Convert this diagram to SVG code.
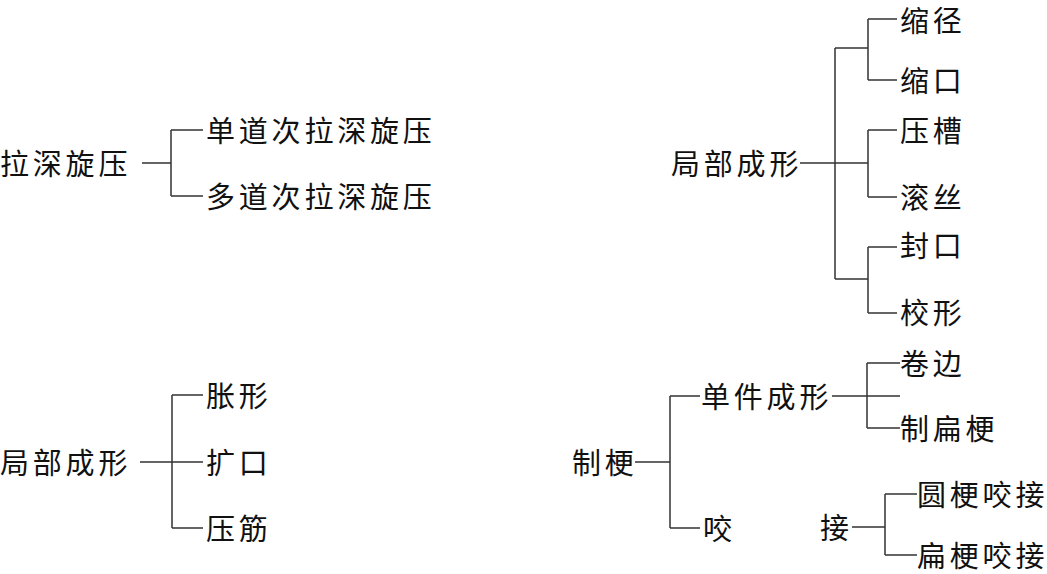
<svg xmlns="http://www.w3.org/2000/svg" width="1047" height="574" viewBox="0 0 1047 574">
<style>
.t{font-family:"Noto Sans CJK SC","Noto Sans",sans-serif;font-size:29px;letter-spacing:3.8px;fill:#111;dominant-baseline:central}
.c path{fill:none;stroke:#333;stroke-width:1.5}
</style>
<rect width="1047" height="574" fill="#fff"/>
<g class="c" id="connectors">
<path d="M142 163H171M171 130V196M171 130H203M171 196H203"/>
<path d="M800 163H868M835 48V279M835 48H868M835 279H868M868 19V80M868 19H897M868 80H897M868 130V197M868 130H897M868 197H897M868 247V313M868 247H897M868 313H897"/>
<path d="M140 462H203M172 395V528M172 395H203M172 528H203"/>
<path d="M635 462H670M670 396V528M670 396H700M670 528H700M832 396H900M867 363V428M867 363H900M867 428H900M852 527H885M885 494V555M885 494H917M885 555H917"/>
</g>
<g id="n1"><text class="t" x="0" y="162">拉深旋压</text></g>
<g id="n2"><text class="t" x="206" y="129">单道次拉深旋压</text></g>
<g id="n3"><text class="t" x="206" y="195">多道次拉深旋压</text></g>
<g id="n4"><text class="t" x="671" y="162">局部成形</text></g>
<g id="n5"><text class="t" x="900" y="19">缩径</text></g>
<g id="n6"><text class="t" x="900" y="79">缩口</text></g>
<g id="n7"><text class="t" x="900" y="129">压槽</text></g>
<g id="n8"><text class="t" x="900" y="196">滚丝</text></g>
<g id="n9"><text class="t" x="900" y="244">封口</text></g>
<g id="n10"><text class="t" x="900" y="311">校形</text></g>
<g id="n11"><text class="t" x="0" y="461">局部成形</text></g>
<g id="n12"><text class="t" x="206" y="394">胀形</text></g>
<g id="n13"><text class="t" x="206" y="461">扩口</text></g>
<g id="n14"><text class="t" x="206" y="527">压筋</text></g>
<g id="n15"><text class="t" x="572" y="461">制梗</text></g>
<g id="n16"><text class="t" x="701" y="395">单件成形</text></g>
<g id="n17"><text class="t" x="703" y="527">咬</text></g>
<g id="n18"><text class="t" x="820" y="526">接</text></g>
<g id="n19"><text class="t" x="900" y="362">卷边</text></g>
<g id="n20"><text class="t" x="900" y="427">制扁梗</text></g>
<g id="n21"><text class="t" x="917" y="493">圆梗咬接</text></g>
<g id="n22"><text class="t" x="917" y="554">扁梗咬接</text></g>
</svg>
